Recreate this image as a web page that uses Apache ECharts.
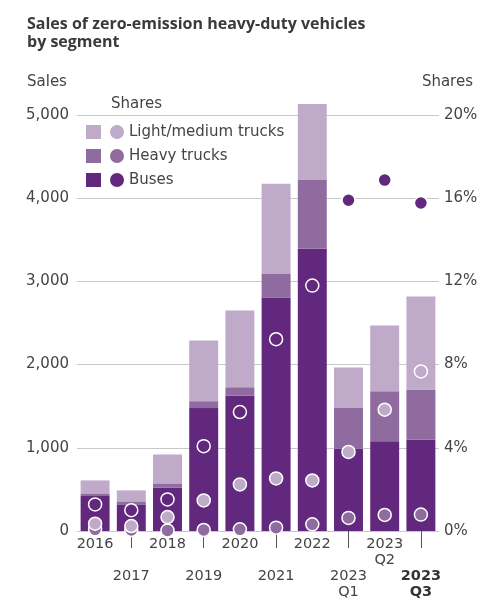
<!DOCTYPE html>
<html>
<head>
<meta charset="utf-8">
<script src="https://cdn.jsdelivr.net/npm/echarts@6/dist/echarts.min.js"></script>
<style>
  html, body { margin: 0; padding: 0; background: #fff; }
  #main { width: 490px; height: 610px; }
</style>
</head>
<body>
<div id="main"></div>
<script>
// categories
const periods = ['2016', '2017', '2018', '2019', '2020', '2021', '2022', '2023\nQ1', '2023\nQ2', '2023\nQ3'];

// sales (vehicles)
const busSales   = [420, 320, 524, 1477, 1630, 2806, 3393, 990, 1080, 1097];
const heavySales = [32, 36, 48, 83, 98, 284, 826, 487, 600, 603];
const lightSales = [156, 132, 348, 731, 922, 1085, 914, 487, 790, 1118];

// shares (%)
const busShare   = [1.28, 1.0, 1.52, 4.08, 5.72, 9.22, 11.8, 15.9, 16.87, 15.77];
const heavyShare = [0.08, 0.05, 0.03, 0.05, 0.08, 0.16, 0.32, 0.63, 0.77, 0.79];
const lightShare = [0.35, 0.24, 0.67, 1.47, 2.24, 2.53, 2.43, 3.8, 5.83, 7.67];

const segNames = ['Light/medium trucks', 'Heavy trucks', 'Buses'];

const colBus = '#62287d';
const colHeavy = '#8f6b9f';
const colLight = '#bfaac9';
const textCol = '#444';
const font = 'DejaVu Sans';

const chart = echarts.init(document.getElementById('main'));

// last period label in bold
const boldLast = function (v, i) {
    if (i === periods.length - 1) {
        return v.split('\n').map(s => '{b|' + s + '}').join('\n');
    }
    return v;
};

const labelStyle = {
    color: textCol,
    fontFamily: font,
    fontSize: 14.5,
    lineHeight: 16,
    rich: { b: { fontWeight: 'bold', color: '#333', fontFamily: font, fontSize: 14.5, lineHeight: 16 } }
};

const shareSeries = function (name, data, color) {
    return {
        name: name + ' share',
        type: 'scatter',
        yAxisIndex: 1,
        data: data,
        symbolSize: 13,
        z: 5,
        itemStyle: { color: color, borderColor: '#fff', borderWidth: 1.5, opacity: 1 }
    };
};

const option = {
    backgroundColor: '#fff',
    animation: false,
    textStyle: { fontFamily: font },
    title: [
        {
            text: 'Sales of zero-emission heavy-duty vehicles\nby segment',
            left: 22, top: 10,
            textStyle: { fontFamily: 'Open Sans', fontSize: 16, fontWeight: 'bold', color: '#3a3a3a', lineHeight: 18 }
        },
        { text: 'Sales', left: 22, top: 70, textStyle: { fontFamily: font, fontSize: 15, fontWeight: 'normal', color: textCol } },
        { text: 'Shares', right: 12, top: 70, textStyle: { fontFamily: font, fontSize: 15, fontWeight: 'normal', color: textCol } },
        { text: 'Shares', left: 106, top: 92, textStyle: { fontFamily: font, fontSize: 15, fontWeight: 'normal', color: textCol } }
    ],
    legend: [
        {
            orient: 'vertical',
            left: 81, top: 119,
            data: segNames.map(n => ({ name: n, icon: 'rect' })),
            itemWidth: 15, itemHeight: 14, itemGap: 8,
            itemStyle: { borderWidth: 0 },
            formatter: () => ' ',
            textStyle: { fontSize: 15, lineHeight: 16 },
            selectedMode: false
        },
        {
            orient: 'vertical',
            left: 105, top: 119,
            data: segNames.map(n => ({ name: n + ' share', icon: 'circle' })),
            itemWidth: 14, itemHeight: 14, itemGap: 8,
            itemStyle: { borderWidth: 0 },
            formatter: n => n.replace(' share', ''),
            textStyle: { fontFamily: font, fontSize: 15, lineHeight: 16, color: textCol },
            selectedMode: false
        }
    ],
    grid: { left: 77, right: 51, top: 115, bottom: 79, containLabel: false },
    xAxis: [
        {
            type: 'category',
            data: periods,
            axisLine: { show: false },
            axisTick: { show: false },
            axisLabel: Object.assign({ interval: (i) => i % 2 === 0, margin: 5, formatter: boldLast }, labelStyle)
        },
        {
            // second row of labels, with leader ticks
            type: 'category',
            data: periods,
            position: 'bottom',
            offset: 7,
            axisLine: { show: false },
            axisTick: {
                show: true, alignWithLabel: true, length: 17,
                interval: (i) => i % 2 === 1,
                lineStyle: { color: '#555', width: 1 }
            },
            axisLabel: Object.assign({ interval: (i) => i % 2 === 1, margin: 30, formatter: boldLast }, labelStyle)
        }
    ],
    yAxis: [
        {
            type: 'value',
            min: 0, max: 5000, interval: 1000,
            axisLine: { show: false },
            axisTick: { show: false },
            splitLine: { lineStyle: { color: '#c8c8c8', width: 1 } },
            axisLabel: {
                color: textCol, fontFamily: font, fontSize: 15, margin: 8,
                formatter: v => v.toLocaleString('en-US')
            }
        },
        {
            type: 'value',
            position: 'right',
            min: 0, max: 20, interval: 4,
            axisLine: { show: false },
            axisTick: { show: false },
            splitLine: { show: false },
            axisLabel: { color: textCol, fontFamily: font, fontSize: 15, margin: 5, formatter: '{value}%' }
        }
    ],
    series: [
        { name: 'Buses', type: 'bar', stack: 'sales', clip: false, data: busSales, barWidth: '80%', itemStyle: { color: colBus } },
        { name: 'Heavy trucks', type: 'bar', stack: 'sales', clip: false, data: heavySales, itemStyle: { color: colHeavy } },
        { name: 'Light/medium trucks', type: 'bar', stack: 'sales', clip: false, data: lightSales, itemStyle: { color: colLight } },
        shareSeries('Buses', busShare, colBus),
        shareSeries('Heavy trucks', heavyShare, colHeavy),
        shareSeries('Light/medium trucks', lightShare, colLight)
    ]
};

chart.setOption(option);
</script>
</body>
</html>
